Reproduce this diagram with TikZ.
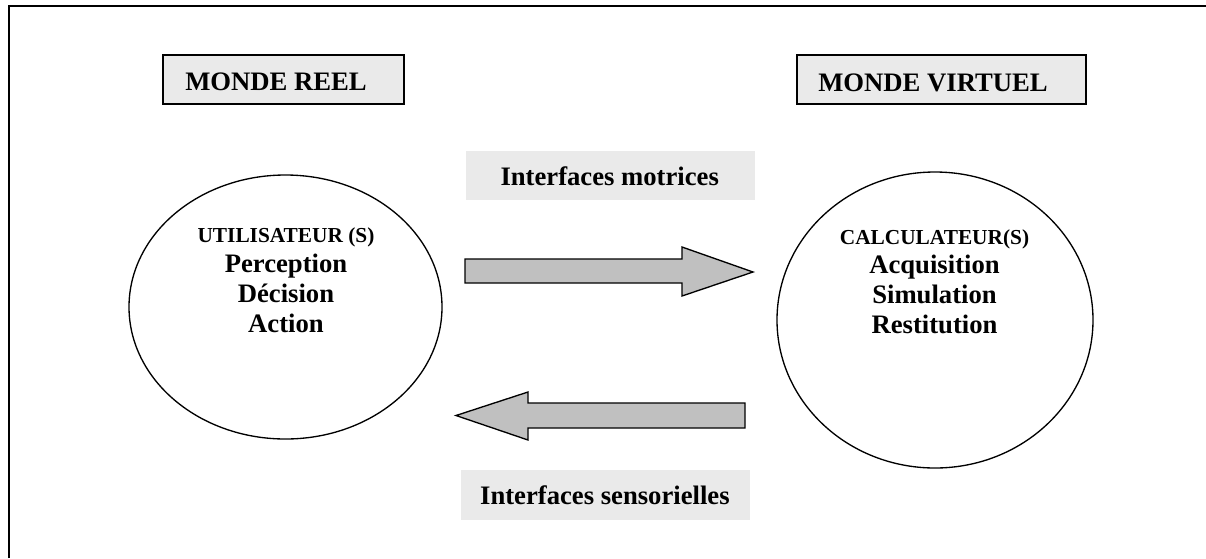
\documentclass[tikz,border=0pt]{standalone}
\usepackage{fontspec}
\setmainfont{Liberation Serif}
\usetikzlibrary{shapes.geometric}
\definecolor{panelgray}{HTML}{EAEAEA}
\definecolor{arrowgray}{HTML}{C0C0C0}
\begin{document}
\begin{tikzpicture}[x=0.75pt,y=-0.75pt,
  worldbox/.style={draw=black, line width=1pt, fill=panelgray, minimum height=36.75pt, inner sep=0pt},
  band/.style={fill=panelgray, minimum width=216.75pt, inner sep=0pt},
  bigtext/.style={font=\fontsize{20}{23}\selectfont\bfseries, inner sep=0pt},
  smalltext/.style={font=\fontsize{16}{18}\selectfont\bfseries, inner sep=0pt},
  agent/.style={ellipse, draw=black, line width=1pt, inner sep=0pt},
  blockarrow/.style={draw=black, line width=1pt, fill=arrowgray, line join=miter}]
\useasboundingbox (0,0) rectangle (1206,558);

% outer frame (top and left edges)
\draw[line width=1.5pt, line join=miter] (8.5,558) -- (8.5,6) -- (1206,6);

% world headers
\node[worldbox, minimum width=180.75pt] (reel) at (283.5,79.5) {};
\node[bigtext, anchor=base west] (reeltxt) at (185,90.7) {MONDE REEL};
\node[worldbox, minimum width=216.75pt] (virt) at (941.5,79.5) {};
\node[bigtext, anchor=base west] (virttxt) at (818,91.5) {MONDE VIRTUEL};

% interface labels
\node[band, minimum height=36.75pt] (motband) at (610.5,175.5) {};
\node[bigtext, anchor=base] (mottxt) at (609.7,185) {Interfaces motrices};
\node[band, minimum height=37.5pt] (sensband) at (605.5,495) {};
\node[bigtext, anchor=base] (senstxt) at (604.9,504.3) {Interfaces sensorielles};

% user and computer
\node[agent, minimum width=234.75pt, minimum height=198pt] (user) at (285.5,307) {};
\node[smalltext, anchor=base] (u0) at (286,242.7) {UTILISATEUR (S)};
\node[bigtext, anchor=base] (u1) at (286,272.7) {Perception};
\node[bigtext, anchor=base] (u2) at (286,302.7) {Décision};
\node[bigtext, anchor=base] (u3) at (286,332.7) {Action};

\node[agent, minimum width=237pt, minimum height=222pt] (comp) at (935,320) {};
\node[smalltext, anchor=base] (c0) at (934.5,244.5) {CALCULATEUR(S)};
\node[bigtext, anchor=base] (c1) at (934.5,273) {Acquisition};
\node[bigtext, anchor=base] (c2) at (934.5,303) {Simulation};
\node[bigtext, anchor=base] (c3) at (934.5,333) {Restitution};

% block arrows between the two worlds
\draw[blockarrow] (465,259) -- (682,259) -- (682,247) -- (753,272) -- (682,296) -- (682,283) -- (465,283) -- cycle;
\draw[blockarrow] (745,403) -- (528,403) -- (528,392) -- (456,415.5) -- (528,440) -- (528,428) -- (745,428) -- cycle;
\end{tikzpicture}
\end{document}
